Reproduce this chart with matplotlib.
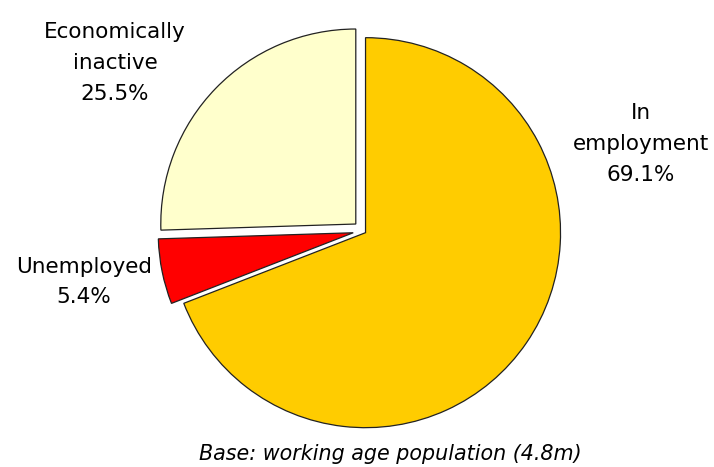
import matplotlib.pyplot as plt

labels = ['In\nemployment', 'Unemployed', 'Economically\ninactive']
shares = [69.1, 5.4, 25.5]
colors = ['#FFCC00', '#FF0000', '#FFFFCC']
explode = [0.017, 0.05, 0.05]

fig = plt.figure(figsize=(7.14, 4.67), dpi=100)
# pie radius 195px, centre at (362.8, 230.8) px from top-left
r = 195
cx, cy = 362.8, 467 - 230.8
lim = 1.3
w = 2 * lim * r
ax = fig.add_axes([(cx - w / 2) / 714, (cy - w / 2) / 467, w / 714, w / 467])
ax.pie(shares, colors=colors, explode=explode, startangle=90, counterclock=False,
       wedgeprops=dict(edgecolor='#222222', linewidth=0.9))
ax.set_xlim(-lim, lim)
ax.set_ylim(-lim, lim)
ax.set_aspect('equal')
ax.axis('off')

fs = 15.5
ls = 1.7
fig.text(641 / 714, 1 - 144 / 467, f'{labels[0]}\n{shares[0]}%', ha='center', va='center',
         fontsize=fs, linespacing=ls)
fig.text(84 / 714, 1 - 282 / 467, f'{labels[1]}\n{shares[1]}%', ha='center', va='center',
         fontsize=fs, linespacing=ls * 0.95)
fig.text(115 / 714, 1 - 63 / 467, f'{labels[2]}\n{shares[2]}%', ha='center', va='center',
         fontsize=fs, linespacing=ls)
fig.text(390 / 714, 1 - 454 / 467, 'Base: working age population (4.8m)', ha='center',
         va='center', fontsize=14.9, style='italic')

fig.savefig('out.png', dpi=100)
